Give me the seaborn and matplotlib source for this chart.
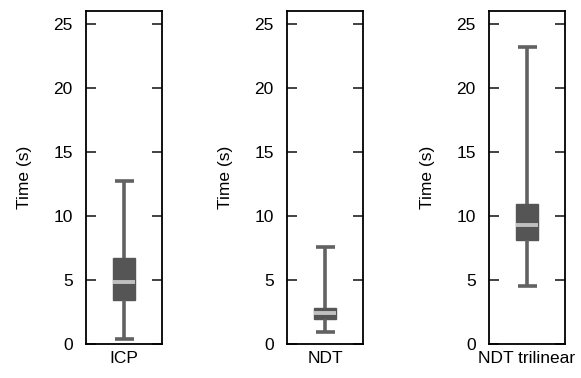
import numpy as np
import pandas as pd
import matplotlib
matplotlib.use("Agg")
import matplotlib.pyplot as plt
import seaborn as sns

sns.set_style("ticks")
plt.rcParams['font.family'] = ['Liberation Sans', 'DejaVu Sans']
plt.rcParams['text.color'] = 'black'
plt.rcParams['axes.labelcolor'] = 'black'
plt.rcParams['xtick.color'] = 'black'
plt.rcParams['ytick.color'] = 'black'

# Five-number summaries: min, Q1, median, Q3, max
methods = ["ICP", "NDT", "NDT trilinear"]
icp_times = [0.39, 3.43, 4.81, 6.68, 12.71]
ndt_times = [0.91, 1.95, 2.39, 2.83, 7.57]
ndt_tri_times = [4.5, 8.11, 9.28, 10.9, 23.19]
yticks = [0, 5, 10, 15, 20, 25]

series = [icp_times, ndt_times, ndt_tri_times]

fig = plt.figure(figsize=(5.81, 3.78), dpi=100)
lefts = [86 / 581, 287 / 581, 489 / 581]
width = 76 / 581
bottom = 1 - 344 / 378
height = 333 / 378

box_col = "#555555"
line_col = "#626262"
med_col = "#c0c0c0"
fs = 12.5

for left, name, vals in zip(lefts, methods, series):
    ax = fig.add_axes([left, bottom, width, height])
    df = pd.DataFrame({"method": name, "time": vals})
    sns.boxplot(data=df, x="method", y="time", ax=ax, width=0.29,
                whis=(0, 100), fliersize=0, color=box_col, linecolor=line_col,
                linewidth=2.6, capwidths=0.25,
                boxprops=dict(facecolor=box_col, edgecolor=box_col, linewidth=1),
                medianprops=dict(color=med_col, linewidth=2.8, solid_capstyle="butt"),
                whiskerprops=dict(color=line_col, linewidth=2.6, solid_capstyle="butt"),
                capprops=dict(color=line_col, linewidth=2.6, solid_capstyle="butt"))
    ax.set_ylim(0, 26)
    ax.set_xlim(-0.5, 0.5)
    ax.set_yticks(yticks)
    ax.set_yticklabels([str(t) for t in yticks])
    ax.set_ylabel("Time (s)", fontsize=fs, labelpad=15, color="black")
    ax.set_xlabel("")
    ax.tick_params(axis="y", direction="in", length=7.5, width=1.2, left=True,
                   right=True, labelsize=fs, pad=9.5, color="#222222",
                   labelcolor="black")
    ax.tick_params(axis="x", length=0, labelsize=fs, pad=5, labelcolor="black")
    for sp in ax.spines.values():
        sp.set_visible(True)
        sp.set_linewidth(1.3)
        sp.set_color("black")

fig.savefig("out.png", dpi=100)
